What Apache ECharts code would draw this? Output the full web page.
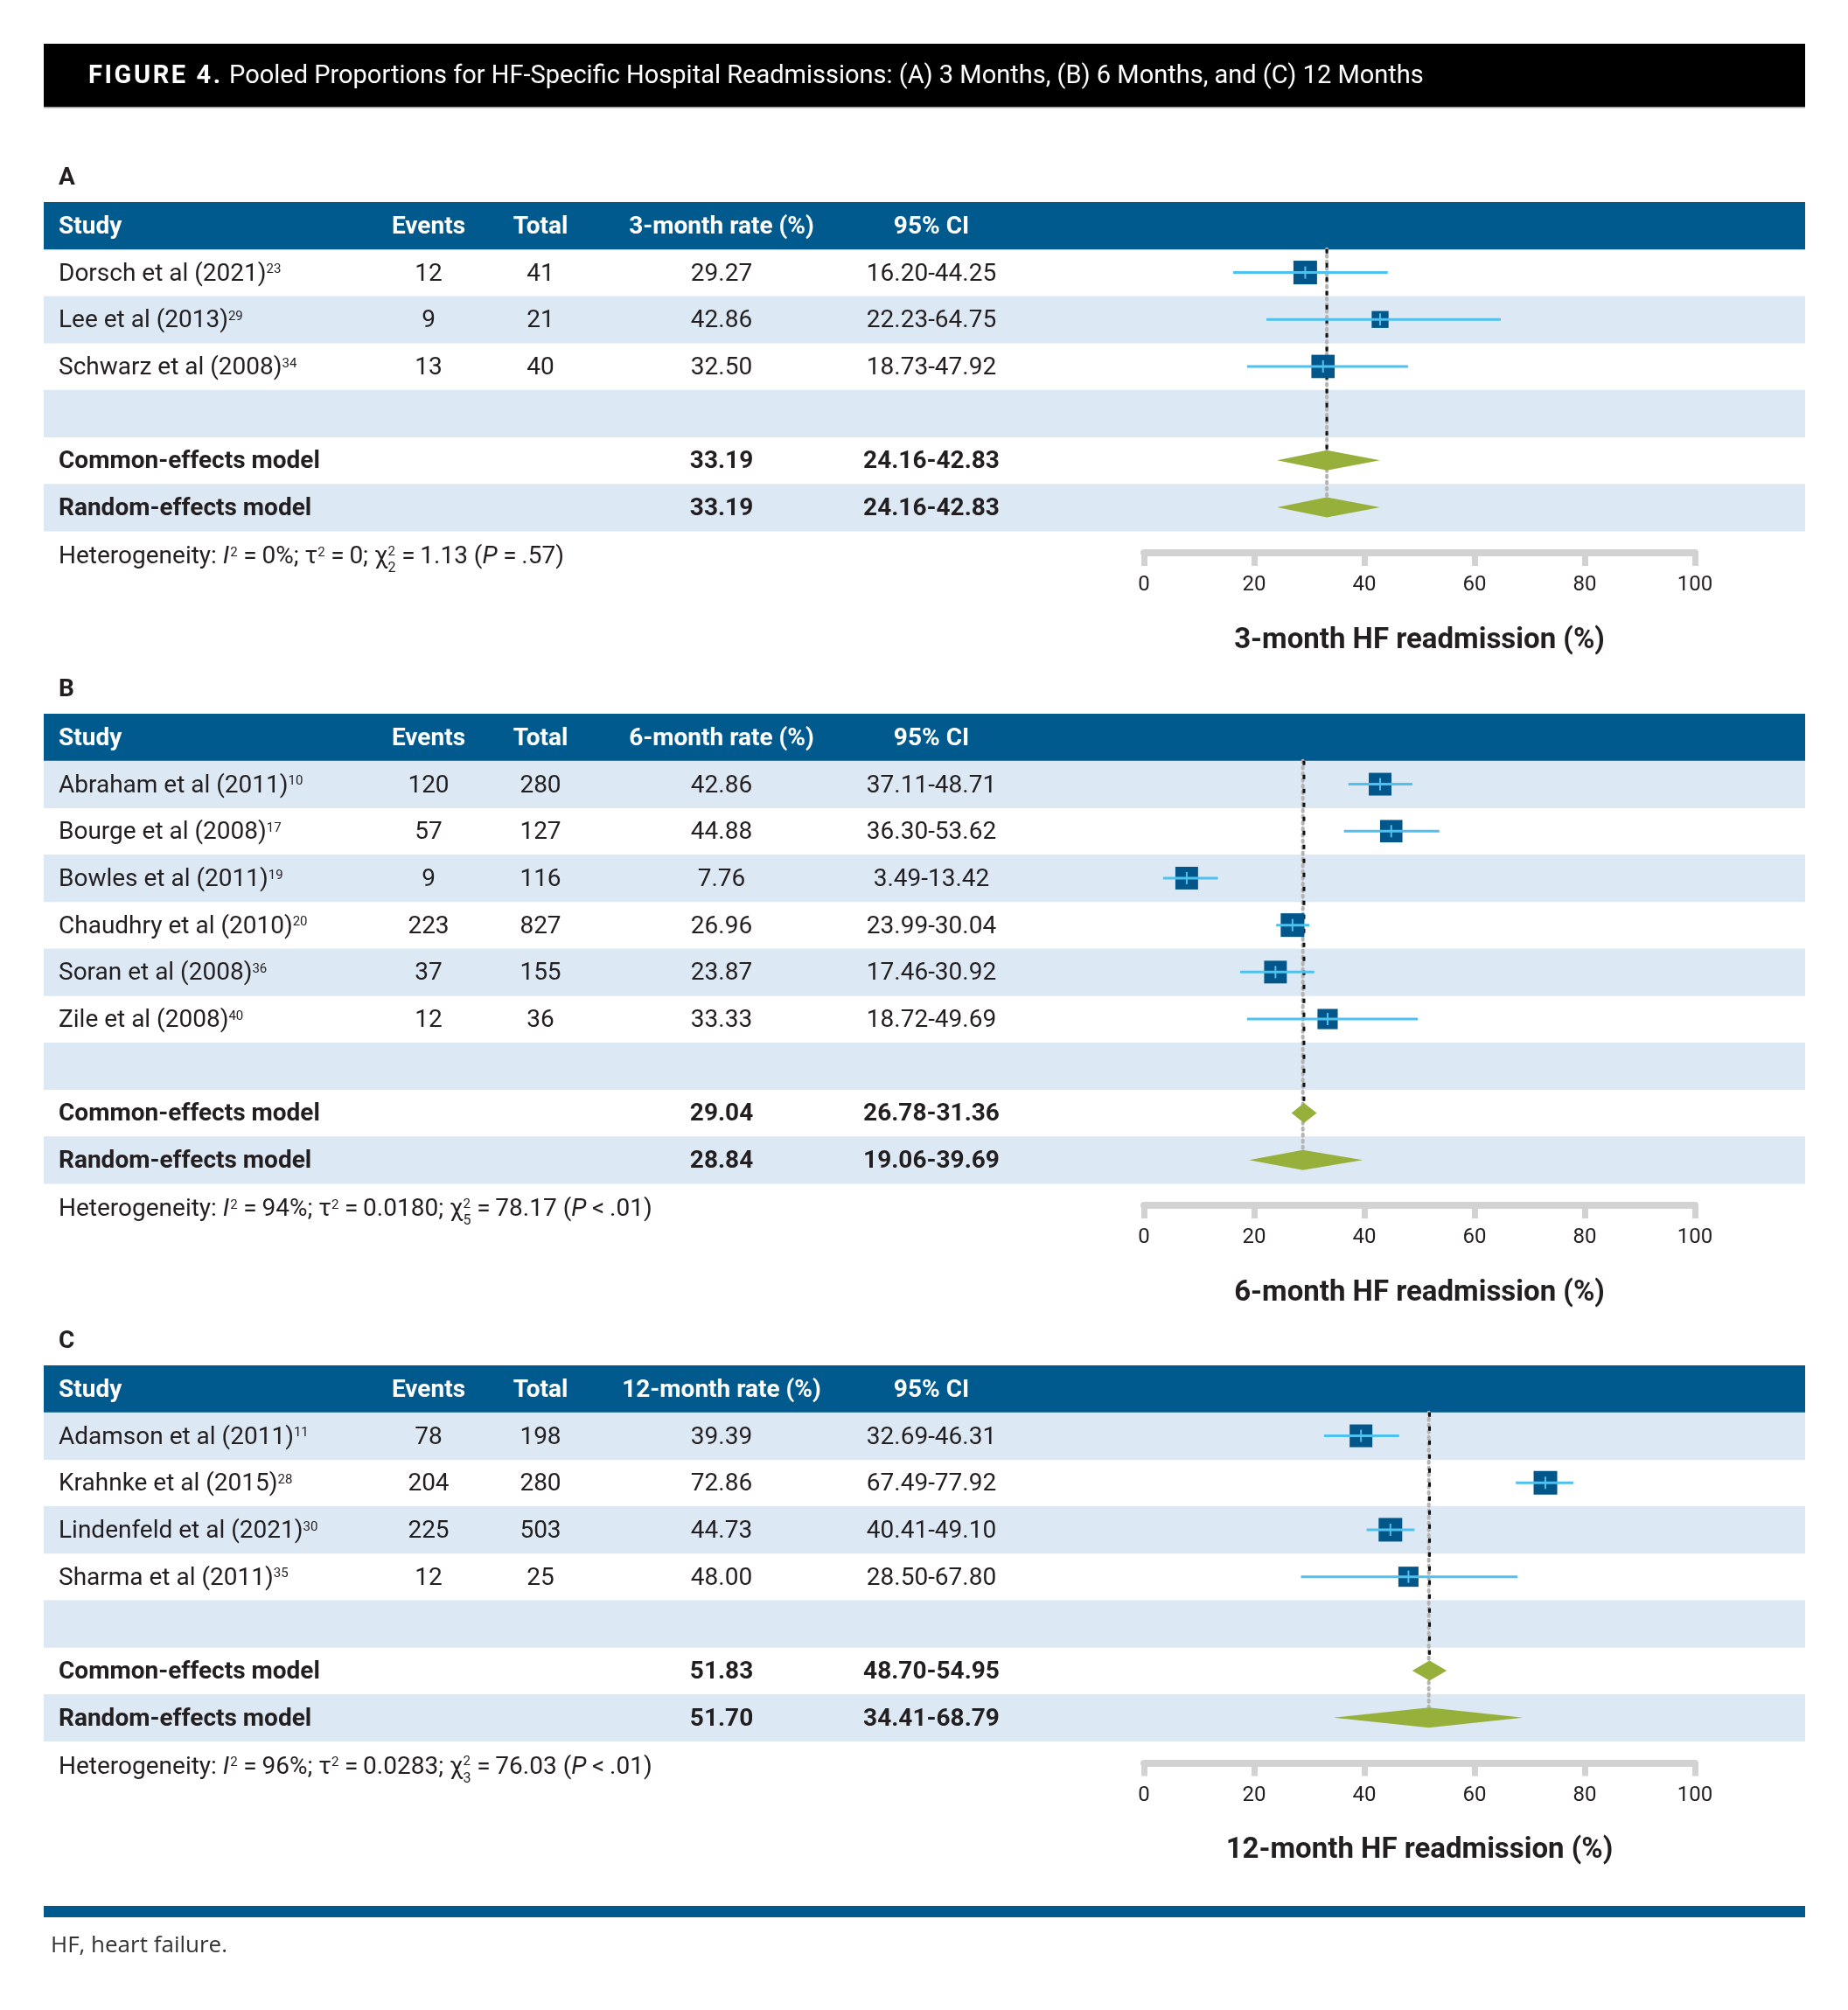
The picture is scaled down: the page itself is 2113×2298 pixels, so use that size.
<!DOCTYPE html>
<html>
<head>
<meta charset="utf-8">
<script src="https://cdn.jsdelivr.net/npm/echarts@6/dist/echarts.min.js"></script>
<style>
html, body { margin: 0; padding: 0; background: #ffffff; }
#chart { width: 2113px; height: 2298px; }
</style>
</head>
<body>
<div id="chart"></div>
<script>
// ================= DATA =================
const figureTitleBold = 'FIGURE 4.';
const figureTitle = ' Pooled Proportions for HF-Specific Hospital Readmissions: (A) 3 Months, (B) 6 Months, and (C) 12 Months';
const footnote = 'HF, heart failure.';
const panelLetters = ['A', 'B', 'C'];
const rateHeaders = ['3-month rate (%)', '6-month rate (%)', '12-month rate (%)'];
const axisTitles = ['3-month HF readmission (%)', '6-month HF readmission (%)', '12-month HF readmission (%)'];
const columnHeaders = ['Study', 'Events', 'Total', '95% CI'];
const xTickMin = 0, xTickMax = 100, xTickStep = 20;

// Panel A: 3 months
const studiesA = ['Dorsch et al (2021)', 'Lee et al (2013)', 'Schwarz et al (2008)'];
const refsA = ['23', '29', '34'];
const eventsA = [12, 9, 13];
const totalsA = [41, 21, 40];
const ratesA = [29.27, 42.86, 32.50];
const lowA = [16.20, 22.23, 18.73];
const highA = [44.25, 64.75, 47.92];
const weightsA = [40.2, 20.6, 39.2];
const commonA = [33.19, 24.16, 42.83];
const randomA = [33.19, 24.16, 42.83];

// Panel B: 6 months
const studiesB = ['Abraham et al (2011)', 'Bourge et al (2008)', 'Bowles et al (2011)', 'Chaudhry et al (2010)', 'Soran et al (2008)', 'Zile et al (2008)'];
const refsB = ['10', '17', '19', '20', '36', '40'];
const eventsB = [120, 57, 9, 223, 37, 12];
const totalsB = [280, 127, 116, 827, 155, 36];
const ratesB = [42.86, 44.88, 7.76, 26.96, 23.87, 33.33];
const lowB = [37.11, 36.30, 3.49, 23.99, 17.46, 18.72];
const highB = [48.71, 53.62, 13.42, 30.04, 30.92, 49.69];
const weightsB = [17.1, 16.6, 17.1, 18.5, 17.1, 13.6];
const commonB = [29.04, 26.78, 31.36];
const randomB = [28.84, 19.06, 39.69];

// Panel C: 12 months
const studiesC = ['Adamson et al (2011)', 'Krahnke et al (2015)', 'Lindenfeld et al (2021)', 'Sharma et al (2011)'];
const refsC = ['11', '28', '30', '35'];
const eventsC = [78, 204, 225, 12];
const totalsC = [198, 280, 503, 25];
const ratesC = [39.39, 72.86, 44.73, 48.00];
const lowC = [32.69, 67.49, 40.41, 28.50];
const highC = [46.31, 77.92, 49.10, 67.80];
const weightsC = [25.4, 27.4, 27.4, 19.9];
const commonC = [51.83, 48.70, 54.95];
const randomC = [51.70, 34.41, 68.79];

// Heterogeneity statistics
const hetI2 = ['0%', '94%', '96%'];
const hetTau2 = ['0', '0.0180', '0.0283'];
const hetDf = ['2', '5', '3'];
const hetChi2 = ['1.13', '78.17', '76.03'];
const hetP = ['=\u2009.57', '<\u2009.01', '<\u2009.01'];

// ================= STYLE / LAYOUT =================
const FAMILY = 'Roboto, "Noto Sans", "DejaVu Sans", sans-serif';
const TXT = '#231f20';
const HEAD_BLUE = '#015a8d';
const STRIPE = '#dde8f5';
const SQ_COLOR = '#03568a';
const CI_COLOR = '#4fc1ee';
const DIA_COLOR = '#97b03b';
const AXIS_GREY = '#d2d2d2';
const BASE = 28;
const TEXT_DY = 2;
const SUP_SIZE = 15, SUP_DY = -5;
const SUB_SIZE = 16, SUB_DY = 13;
const TABLE_L = 50, TABLE_R = 2064;
const COL_STUDY = 67, COL_EVENTS = 490, COL_TOTAL = 618, COL_RATE = 825, COL_CI = 1065;
const PLOT_L = 1308, PLOT_R = 1938;
const PANEL_TOPS = [231, 816, 1561];
const ROW_H = 53.7;
const SQ_MAX = 27;
const DIA_HALF = 11.5;

const panels = [
  { studies: studiesA, refs: refsA, events: eventsA, totals: totalsA, rates: ratesA, low: lowA, high: highA, weights: weightsA, common: commonA, random: randomA },
  { studies: studiesB, refs: refsB, events: eventsB, totals: totalsB, rates: ratesB, low: lowB, high: highB, weights: weightsB, common: commonB, random: randomB },
  { studies: studiesC, refs: refsC, events: eventsC, totals: totalsC, rates: ratesC, low: lowC, high: highC, weights: weightsC, common: commonC, random: randomC }
];

// ================= TEXT HELPERS =================
const mctx = document.createElement('canvas').getContext('2d');
function fontStr(size, bold, italic) {
  return (italic ? 'italic ' : 'normal ') + (bold ? 'bold ' : 'normal ') + size + 'px ' + FAMILY;
}
function tw(t, f) { mctx.font = f; return mctx.measureText(t).width; }
function textEl(t, x, y, f, fill, align) {
  return { type: 'text', x: x, y: y, silent: true, z2: 10,
    style: { text: t, font: f, fill: fill, align: align || 'left', verticalAlign: 'middle' } };
}
function runText(parts, x0, y, fill, baseSize) {
  const out = [];
  let x = x0;
  parts.forEach(function (p) {
    if (p.stack) {
      const fs = fontStr(SUP_SIZE, false, false), fb = fontStr(SUB_SIZE, false, false);
      out.push(textEl(p.stack[0], x, y + SUP_DY - 1, fs, fill));
      out.push(textEl(p.stack[1], x, y + SUB_DY, fb, fill));
      x += Math.max(tw(p.stack[0], fs), tw(p.stack[1], fb)) + 1;
      return;
    }
    const size = p.sup ? SUP_SIZE : (baseSize || BASE);
    const f = fontStr(size, p.bold, p.italic);
    const yy = y + (p.sup ? SUP_DY : 0);
    if (p.spacing) {
      for (const ch of p.t) { out.push(textEl(ch, x, yy, f, fill)); x += tw(ch, f) + p.spacing; }
    } else {
      out.push(textEl(p.t, x, yy, f, fill));
      x += tw(p.t, f) + (p.sup ? 1 : 0) + (p.italic ? 1 : 0);
    }
  });
  return out;
}
function hetParts(pi) {
  const eq = '\u2009=\u2009';
  return [
    { t: 'Heterogeneity: ' }, { t: 'I', italic: true }, { t: '2', sup: true },
    { t: eq + hetI2[pi] + '; \u03c4' }, { t: '2', sup: true },
    { t: eq + hetTau2[pi] + '; \u03c7' }, { stack: ['2', hetDf[pi]] },
    { t: eq + hetChi2[pi] + ' (' }, { t: 'P', italic: true },
    { t: '\u2009' + hetP[pi] + ')' }
  ];
}

// ================= BUILD OPTION =================
const grids = [], xAxes = [], yAxes = [], series = [];
const fN = fontStr(BASE, false, false), fB = fontStr(BASE, true, false);

panels.forEach(function (p, pi) {
  const rows = ['header'].concat(p.studies.map(function (s, i) { return 'study' + i; }), ['blank', 'common', 'random']);
  const nRows = rows.length;
  const nBody = nRows - 1;
  const commonRow = nRows - 2, randomRow = nRows - 1;
  const maxW = Math.max.apply(null, p.weights);

  grids.push({ left: PLOT_L, width: PLOT_R - PLOT_L, top: PANEL_TOPS[pi], height: ROW_H * nRows, containLabel: false });
  xAxes.push({
    gridIndex: pi, type: 'value', min: xTickMin, max: xTickMax, interval: xTickStep, position: 'bottom', offset: 25,
    axisLine: { show: true, lineStyle: { color: AXIS_GREY, width: 8 } },
    axisTick: { show: true, length: 15, lineStyle: { color: AXIS_GREY, width: 7 } },
    axisLabel: { show: true, fontSize: 24, color: TXT, margin: 25, fontFamily: FAMILY },
    splitLine: { show: false },
    name: axisTitles[pi], nameLocation: 'middle', nameGap: 84,
    nameTextStyle: { fontSize: 33, fontWeight: 'bold', color: TXT, fontFamily: FAMILY }
  });
  yAxes.push({ gridIndex: pi, type: 'category', data: rows, inverse: true, show: false,
    axisLine: { show: false }, axisTick: { show: false }, axisLabel: { show: false }, splitLine: { show: false } });

  // Row backgrounds (header + stripes)
  series.push({
    type: 'custom', xAxisIndex: pi, yAxisIndex: pi, z: 1, silent: true, clip: false,
    encode: { x: 0, y: 1 },
    data: rows.map(function (r, i) { return [0, i]; }),
    renderItem: function (params, api) {
      const i = params.dataIndex;
      const c = api.coord([0, i]);
      const h = api.size([0, 1])[1];
      let fill = null;
      if (i === 0) fill = HEAD_BLUE;
      else if ((nBody - i) % 2 === 0) fill = STRIPE;
      if (!fill) return { type: 'group', children: [] };
      return { type: 'rect', shape: { x: TABLE_L, y: c[1] - h / 2, width: TABLE_R - TABLE_L, height: h + 0.5 }, style: { fill: fill } };
    }
  });

  // Table text
  series.push({
    type: 'custom', xAxisIndex: pi, yAxisIndex: pi, z: 5, silent: true, clip: false,
    encode: { x: 0, y: 1 },
    data: rows.map(function (r, i) { return [0, i]; }),
    renderItem: function (params, api) {
      const i = params.dataIndex;
      const c = api.coord([0, i]);
      const y = c[1] + TEXT_DY;
      const h = api.size([0, 1])[1];
      const kind = rows[i];
      let ch = [];
      if (kind === 'header') {
        ch = [
          textEl(columnHeaders[0], COL_STUDY, y, fB, '#ffffff'),
          textEl(columnHeaders[1], COL_EVENTS, y, fB, '#ffffff', 'center'),
          textEl(columnHeaders[2], COL_TOTAL, y, fB, '#ffffff', 'center'),
          textEl(rateHeaders[pi], COL_RATE, y, fB, '#ffffff', 'center'),
          textEl(columnHeaders[3], COL_CI, y, fB, '#ffffff', 'center')
        ];
      } else if (kind.indexOf('study') === 0) {
        const j = i - 1;
        ch = runText([{ t: p.studies[j] }, { t: p.refs[j], sup: true }], COL_STUDY, y, TXT).concat([
          textEl(String(p.events[j]), COL_EVENTS, y, fN, TXT, 'center'),
          textEl(String(p.totals[j]), COL_TOTAL, y, fN, TXT, 'center'),
          textEl(p.rates[j].toFixed(2), COL_RATE, y, fN, TXT, 'center'),
          textEl(p.low[j].toFixed(2) + '-' + p.high[j].toFixed(2), COL_CI, y, fN, TXT, 'center')
        ]);
      } else if (kind === 'common' || kind === 'random') {
        const m = kind === 'common' ? p.common : p.random;
        ch = [
          textEl(kind === 'common' ? 'Common-effects model' : 'Random-effects model', COL_STUDY, y, fB, TXT),
          textEl(m[0].toFixed(2), COL_RATE, y, fB, TXT, 'center'),
          textEl(m[1].toFixed(2) + '-' + m[2].toFixed(2), COL_CI, y, fB, TXT, 'center')
        ];
        if (kind === 'random') {
          ch = ch.concat(runText(hetParts(pi), COL_STUDY, y + h / 2 + 28, TXT));
        }
      }
      return { type: 'group', children: ch };
    }
  });

  // Pooled estimate reference lines (random dotted grey, common dashed black)
  series.push({
    type: 'custom', xAxisIndex: pi, yAxisIndex: pi, z: 2, silent: true, clip: false,
    encode: { x: 0, y: 1 },
    data: [[p.random[0], randomRow, 1], [p.common[0], commonRow, 0]],
    renderItem: function (params, api) {
      const v = api.value(0), row = api.value(1), isRandom = api.value(2) === 1;
      const top = api.coord([v, 0]);
      const bot = api.coord([v, row]);
      const h = api.size([0, 1])[1];
      return {
        type: 'line',
        shape: { x1: top[0], y1: top[1] + h / 2, x2: bot[0], y2: bot[1] - DIA_HALF },
        style: isRandom
          ? { stroke: '#b5b5b5', lineWidth: 4, lineDash: [2, 5], lineCap: 'round' }
          : { stroke: '#111111', lineWidth: 3, lineDash: [5, 11] }
      };
    }
  });

  // Study squares with CI
  series.push({
    type: 'custom', xAxisIndex: pi, yAxisIndex: pi, z: 3, silent: true, clip: false,
    encode: { x: [0, 1, 2], y: 3 },
    data: p.rates.map(function (r, j) { return [r, p.low[j], p.high[j], j + 1, p.weights[j]]; }),
    renderItem: function (params, api) {
      const row = api.value(3);
      const c = api.coord([api.value(0), row]);
      const lo = api.coord([api.value(1), row]);
      const hi = api.coord([api.value(2), row]);
      const s = SQ_MAX * Math.sqrt(api.value(4) / maxW);
      return { type: 'group', children: [
        { type: 'rect', shape: { x: c[0] - s / 2, y: c[1] - s / 2, width: s, height: s }, style: { fill: SQ_COLOR } },
        { type: 'line', shape: { x1: lo[0], y1: c[1], x2: hi[0], y2: c[1] }, style: { stroke: CI_COLOR, lineWidth: 3 } },
        { type: 'line', shape: { x1: c[0], y1: c[1] - 7, x2: c[0], y2: c[1] + 7 }, style: { stroke: CI_COLOR, lineWidth: 2 } }
      ] };
    }
  });

  // Pooled diamonds
  series.push({
    type: 'custom', xAxisIndex: pi, yAxisIndex: pi, z: 4, silent: true, clip: false,
    encode: { x: [0, 1, 2], y: 3 },
    data: [[p.common[0], p.common[1], p.common[2], commonRow], [p.random[0], p.random[1], p.random[2], randomRow]],
    renderItem: function (params, api) {
      const row = api.value(3);
      const c = api.coord([api.value(0), row]);
      const lo = api.coord([api.value(1), row]);
      const hi = api.coord([api.value(2), row]);
      return { type: 'polygon', shape: { points: [[lo[0], c[1]], [c[0], c[1] - DIA_HALF], [hi[0], c[1]], [c[0], c[1] + DIA_HALF]] },
        style: { fill: DIA_COLOR } };
    }
  });
});

// Static decorations: title bar, panel letters, bottom rule, footnote
const graphics = [
  { type: 'rect', x: TABLE_L, y: 50, shape: { width: TABLE_R - TABLE_L, height: 72 }, style: { fill: '#000000' } },
  { type: 'rect', x: TABLE_L, y: 122, shape: { width: TABLE_R - TABLE_L, height: 1.5 }, style: { fill: '#9a9a9a' } },
  { type: 'rect', x: TABLE_L, y: 2179, shape: { width: TABLE_R - TABLE_L, height: 13 }, style: { fill: HEAD_BLUE } }
].concat(
  runText([{ t: figureTitleBold, bold: true, spacing: 2.6 }, { t: figureTitle }], 101, 88, '#ffffff', 29),
  panelLetters.map(function (L, pi) { return textEl(L, COL_STUDY, PANEL_TOPS[pi] - 27, fB, TXT); }),
  [{ type: 'text', x: 58, y: 2225, style: { text: footnote, font: 'normal normal 26px "Open Sans", ' + FAMILY, fill: '#333333', align: 'left', verticalAlign: 'middle' } }]
);

const option = {
  animation: false,
  backgroundColor: '#ffffff',
  grid: grids,
  xAxis: xAxes,
  yAxis: yAxes,
  series: series,
  graphic: { elements: graphics }
};

const chart = echarts.init(document.getElementById('chart'));
chart.setOption(option);
</script>
</body>
</html>
